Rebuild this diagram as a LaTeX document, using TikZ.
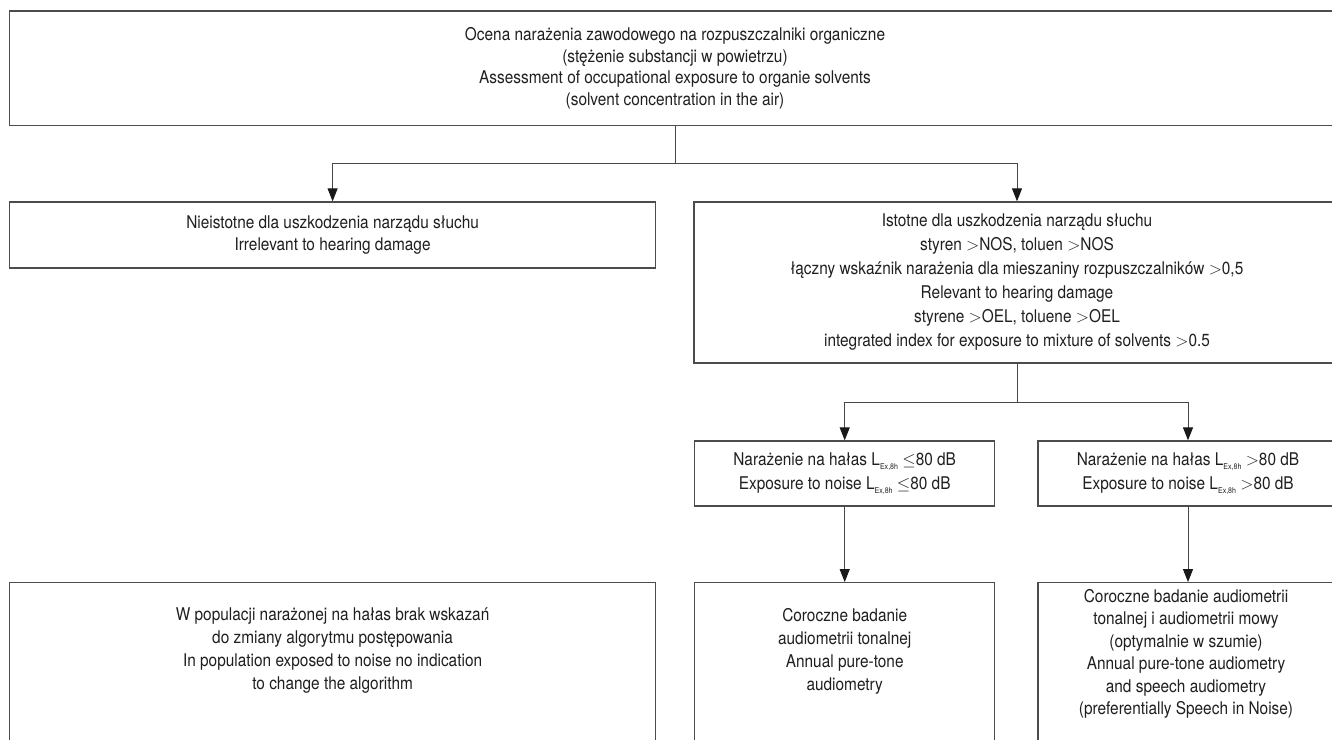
\documentclass[tikz,border=0pt]{standalone}
\usepackage{fontspec}
\setmainfont{TeX Gyre Heros}[FakeStretch=0.88]
\usetikzlibrary{arrows.meta}
\newcommand{\lsub}[1]{\raisebox{-0.5ex}{\fontsize{8}{8}\selectfont #1}}
\tikzset{
  box/.style={draw=black!70, line width=1.3pt, inner sep=0pt, align=center,
    font=\fontsize{17.5}{23.5}\selectfont, text=black!88},
  txt/.style={inner sep=0pt, align=center, font=\fontsize{17.5}{23}\selectfont, text=black!88},
  conn/.style={draw=black!72, line width=1pt},
  arr/.style={conn, -{Triangle[length=13pt,width=10pt,color=black!90]}}
}
\begin{document}
\begin{tikzpicture}[x=1pt,y=-1pt]
\useasboundingbox (0,0) rectangle (1332,739);
\clip (0,0) rectangle (1332,739);
\node[box, minimum width=1331pt, minimum height=114.6pt, font=\fontsize{17.5}{21.5}\selectfont] (top) at (675,68.3)
 {Ocena narażenia zawodowego na rozpuszczalniki organiczne\\(stężenie substancji w powietrzu)\\Assessment of occupational exposure to organie solvents\\(solvent concentration in the air)};
\node[box, minimum width=646.2pt, minimum height=66pt, font=\fontsize{17.5}{22}\selectfont] (nie) at (332.6,235)
 {Nieistotne dla uszkodzenia narządu słuchu\\Irrelevant to hearing damage};
\node[box, minimum width=646pt, minimum height=161pt, font=\fontsize{17.5}{24}\selectfont] (ist) at (1017,282.5)
 {Istotne dla uszkodzenia narządu słuchu\\styren $>$NOS, toluen $>$NOS\\łączny wskaźnik narażenia dla mieszaniny rozpuszczalników $>$0,5\\Relevant to hearing damage\\styrene $>$OEL, toluene $>$OEL\\integrated index for exposure to mixture of solvents $>$0.5};
\node[box, minimum width=300.2pt, minimum height=65pt, font=\fontsize{17.5}{24}\selectfont] (n1) at (844.7,473.5)
 {Narażenie na hałas L\lsub{Ex,8h} $\leq$80 dB\\Exposure to noise L\lsub{Ex,8h} $\leq$80 dB};
\node[box, minimum width=300pt, minimum height=65pt, font=\fontsize{17.5}{24}\selectfont] (n2) at (1188,473.5)
 {Narażenie na hałas L\lsub{Ex,8h} $>$80 dB\\Exposure to noise L\lsub{Ex,8h} $>$80 dB};
\node[box, minimum width=646.2pt, minimum height=170pt] (pop) at (332.6,667.7) {};
\node[box, minimum width=300.2pt, minimum height=170pt] (c1) at (844.7,667.7) {};
\node[box, minimum width=300pt, minimum height=170pt] (c2) at (1188,667.7) {};
\node[txt] (popt) at (332.6,651)
 {W populacji narażonej na hałas brak wskazań\\do zmiany algorytmu postępowania\\In population exposed to noise no indication\\to change the algorithm};
\node[txt] (c1t) at (844.7,651)
 {Coroczne badanie\\audiometrii tonalnej\\Annual pure-tone\\audiometry};
\node[txt, font=\fontsize{17.5}{22.5}\selectfont] (c2t) at (1186,654)
 {Coroczne badanie audiometrii\\tonalnej i audiometrii mowy\\(optymalnie w szumie)\\Annual pure-tone audiometry\\and speech audiometry\\(preferentially Speech in Noise)};
\coordinate (j1) at (675,163);
\coordinate (j2) at (1017,402);
\draw[conn] (top.south) -- (j1);
\draw[arr] (j1) -| (nie.north);
\draw[arr] (j1) -| (ist.north);
\draw[conn] (ist.south) -- (j2);
\draw[arr] (j2) -| (n1.north);
\draw[arr] (j2) -| (n2.north);
\draw[arr] (n1.south) -- (c1.north);
\draw[arr] (n2.south) -- (c2.north);
\end{tikzpicture}
\end{document}
